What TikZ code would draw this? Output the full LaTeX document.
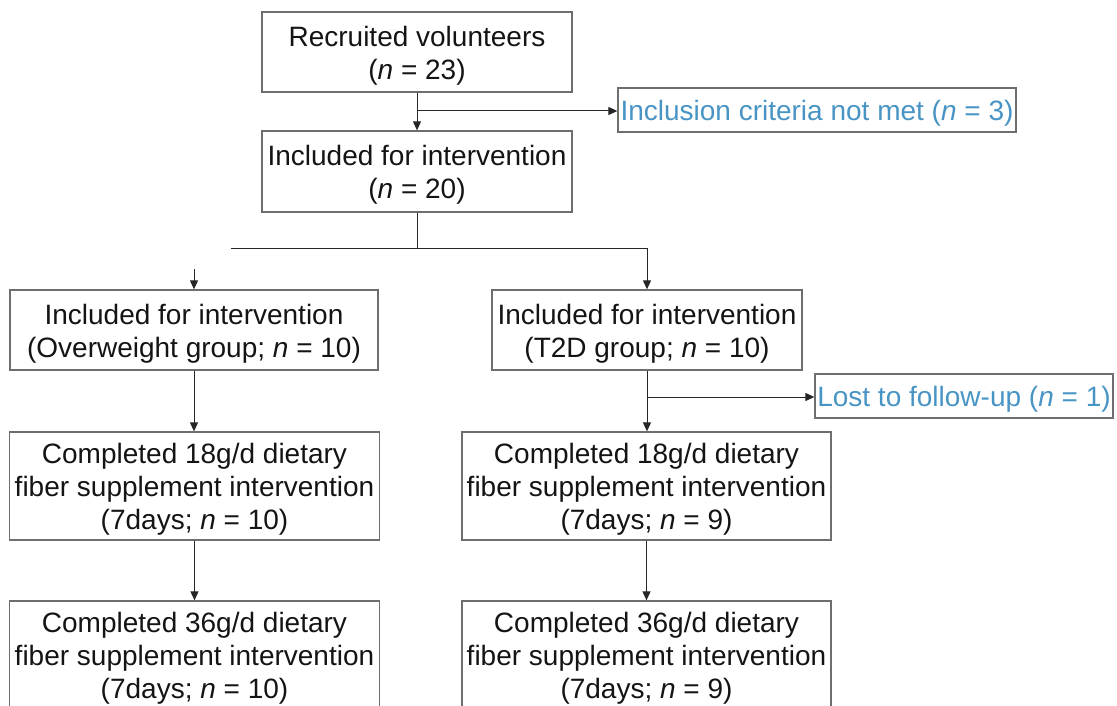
\documentclass[tikz,border=0pt]{standalone}
\usepackage{fontspec}
\setmainfont{Liberation Sans}
\usetikzlibrary{arrows.meta}
\definecolor{boxline}{RGB}{110,110,110}
\definecolor{bluetext}{RGB}{72,148,196}
\definecolor{txt}{RGB}{20,20,20}
\newcommand\fstrut{\rule{0pt}{27.5pt}}
\tikzset{
  box/.style={draw=boxline, line width=1.3pt, inner sep=0pt, align=center,
    text=txt, font=\fontsize{28}{33}\selectfont},
  sidebox/.style={box, text=bluetext},
  conn/.style={draw=black!85, line width=1pt},
  arr/.style={conn, -{Triangle[length=9pt,width=8pt]}}
}
\begin{document}
\begin{tikzpicture}[x=1pt,y=-1pt]
\useasboundingbox (0,0) rectangle (1117,706);
\node[box, minimum width=310pt, minimum height=80pt] (rec) at (417,52) {\fstrut Recruited volunteers\\(\textit{n} = 23)};
\node[box, minimum width=310pt, minimum height=81pt] (inc) at (417,171.5) {\fstrut Included for intervention\\(\textit{n} = 20)};
\node[sidebox, minimum width=398pt, minimum height=44pt] (crit) at (817,110) {\fstrut Inclusion criteria not met (\textit{n} = 3)};
\node[box, minimum width=368pt, minimum height=80pt] (ow) at (194,330) {\fstrut Included for intervention\\(Overweight group; \textit{n} = 10)};
\node[box, minimum width=310pt, minimum height=80pt] (t2d) at (647,330) {\fstrut Included for intervention\\(T2D group; \textit{n} = 10)};
\node[sidebox, minimum width=298pt, minimum height=44pt] (lost) at (964,396) {\fstrut Lost to follow-up (\textit{n} = 1)};
\node[box, minimum width=370pt, minimum height=108pt] (ow18) at (194.5,486) {\fstrut Completed 18g/d dietary\\fiber supplement intervention\\(7days; \textit{n} = 10)};
\node[box, minimum width=369pt, minimum height=108pt] (t18) at (646.5,486) {\fstrut Completed 18g/d dietary\\fiber supplement intervention\\(7days; \textit{n} = 9)};
\node[box, minimum width=370pt, minimum height=108pt] (ow36) at (194.5,655) {\fstrut Completed 36g/d dietary\\fiber supplement intervention\\(7days; \textit{n} = 10)};
\node[box, minimum width=369pt, minimum height=108pt] (t36) at (646.5,655) {\fstrut Completed 36g/d dietary\\fiber supplement intervention\\(7days; \textit{n} = 9)};
% connectors
\coordinate (b1) at (417,111);
\draw[arr] (rec.south) -- (inc.north);
\draw[arr] (b1) -- (b1 -| crit.west);
\coordinate (split) at (417,248);
\coordinate (splitL) at (231,248);
\coordinate (owtop) at (194,269);
\draw[conn] (inc.south) -- (split);
\draw[conn] (splitL) -- (split -| t2d.north);
\draw[arr] (split -| t2d.north) -- (t2d.north);
\draw[arr] (owtop) -- (owtop |- ow.north);
\coordinate (b2) at (647,397);
\draw[arr] (t2d.south) -- (t2d.south |- t18.north);
\draw[arr] (b2) -- (b2 -| lost.west);
\draw[arr] (ow.south) -- (ow.south |- ow18.north);
\draw[arr] (ow18.south) -- (ow18.south |- ow36.north);
\draw[arr] (t18.south) -- (t18.south |- t36.north);
\end{tikzpicture}
\end{document}
